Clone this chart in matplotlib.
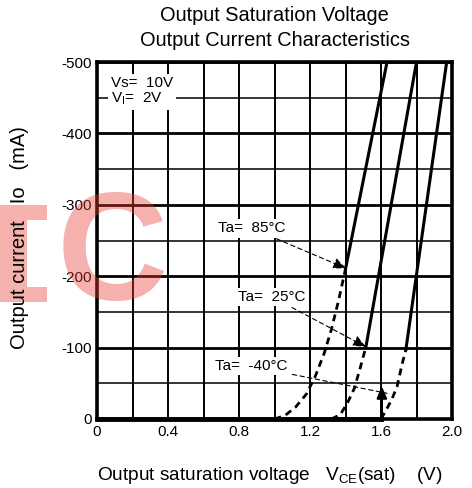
import numpy as np
import matplotlib
matplotlib.use("Agg")
import matplotlib.pyplot as plt
from matplotlib.patches import Polygon

plt.rcParams['font.family'] = ['Liberation Sans', 'DejaVu Sans']
plt.rcParams['mathtext.fontset'] = 'custom'
plt.rcParams['mathtext.rm'] = 'Liberation Sans'
plt.rcParams['axes.unicode_minus'] = False

# VCE(sat) in V, Io in mA
v85_dash = [1.00, 1.06, 1.12, 1.18, 1.23, 1.28, 1.32, 1.36, 1.40]
i85_dash = [0, -5, -17, -35, -60, -92, -125, -165, -210]
v85_solid = [1.40, 1.634]
i85_solid = [-210, -500]

v25_dash = [1.32, 1.37, 1.41, 1.45, 1.48, 1.515]
i25_dash = [0, -6, -22, -43, -69, -101]
v25_solid = [1.515, 1.80]
i25_solid = [-101, -500]

vm40_dash = [1.60, 1.63, 1.66, 1.69, 1.72, 1.74]
im40_dash = [0, -13, -27, -45, -78, -97]
vm40_solid = [1.74, 1.97]
im40_solid = [-97, -500]

v_off = [0, 1.6]
i_off = [0, 0]

x_ticks = [0, 0.4, 0.8, 1.2, 1.6, 2.0]
x_tick_labels = ["0", "0.4", "0.8", "1.2", "1.6", "2.0"]
y_ticks = [0, -100, -200, -300, -400, -500]

W, H = 472, 488
fig = plt.figure(figsize=(W / 100, H / 100), dpi=100)
ax = fig.add_axes([97 / W, 1 - 419 / H, 355 / W, 357 / H])

ax.set_xlim(0, 2.0)
ax.set_ylim(0, -500)
ax.set_xticks(x_ticks)
ax.set_xticklabels(x_tick_labels)
ax.set_xticks(np.arange(0, 2.01, 0.2), minor=True)
ax.set_yticks(y_ticks)
ax.set_yticklabels([str(t) for t in y_ticks])
ax.set_yticks(np.arange(0, -501, -50), minor=True)
ax.tick_params(which='both', length=0, labelsize=11)
ax.tick_params(axis='y', pad=3.5)
ax.tick_params(axis='x', pad=4)
ax.set_axisbelow(True)
ax.grid(which='both', axis='x', color='black', lw=1.4)
ax.grid(which='major', axis='y', color='black', lw=2.0)
ax.grid(which='minor', axis='y', color='black', lw=1.1)
for s in ax.spines.values():
    s.set_linewidth(2.6)

dash = (0, (2.5, 1.8))
ax.plot(v_off, i_off, color='black', lw=3.5, clip_on=False, zorder=4)
for vd, idd, vs, i_s in [(v85_dash, i85_dash, v85_solid, i85_solid),
                         (v25_dash, i25_dash, v25_solid, i25_solid),
                         (vm40_dash, im40_dash, vm40_solid, im40_solid)]:
    ax.plot(vd, idd, color='black', lw=2.0, linestyle=dash, zorder=3)
    ax.plot(vs, i_s, color='black', lw=2.2, zorder=3)

box = dict(boxstyle='square,pad=0.15', fc='white', ec='none')
arrow = dict(arrowstyle='-|>,head_length=0.7,head_width=0.3', color='black',
             lw=0.8, linestyle=(0, (4, 3)), shrinkA=2, shrinkB=0)
ax.annotate("Ta=  85°C", xy=(1.403, -211), xytext=(0.873, -267),
            ha='center', va='center', fontsize=11, bbox=box, arrowprops=arrow)
ax.annotate("Ta=  25°C", xy=(1.515, -101), xytext=(0.986, -171),
            ha='center', va='center', fontsize=11, bbox=box, arrowprops=arrow)
ax.annotate("Ta=  -40°C", xy=(1.634, -36), xytext=(0.868, -74),
            ha='center', va='center', fontsize=11, bbox=box,
            arrowprops=dict(arrowstyle='-', color='black', lw=0.8,
                            linestyle=(0, (4, 3)), shrinkA=2, shrinkB=0))
ax.annotate("", xy=(1.605, -46), xytext=(1.605, 0),
            arrowprops=dict(arrowstyle='-|>,head_length=0.7,head_width=0.3',
                            color='black', lw=1.6, shrinkA=0, shrinkB=0))

ax.text(0.079, -481, "Vs=  10V\nV$_\\mathregular{I}$=  2V", ha='left', va='top',
        fontsize=11, linespacing=1.05,
        bbox=dict(boxstyle='square,pad=0.2', fc='white', ec='none'), zorder=3)

# watermark
wm = (232 / 255, 60 / 255, 50 / 255)
fig.text(112 / W, 1 - 300 / H, "C", ha='center', va='baseline', fontsize=111,
         fontweight='bold', color=wm, alpha=0.4, zorder=5)
pts = [(0, 205), (47, 205), (47, 220), (27, 220), (27, 287), (47, 287), (47, 302), (0, 302)]
fig.add_artist(Polygon([(x / W, 1 - y / H) for x, y in pts], closed=True,
                       transform=fig.transFigure, fc=wm, ec='none', alpha=0.4, zorder=5))

fig.text(274.5 / W, 1 - 15.5 / H, "Output Saturation Voltage", ha='center', va='center', fontsize=14.4, zorder=6)
fig.text(274.5 / W, 1 - 40 / H, "Output Current Characteristics", ha='center', va='center', fontsize=14.4, zorder=6)
fig.text(270 / W, 1 - 475 / H, "Output saturation voltage   V$_\\mathregular{CE}$(sat)    (V)",
         ha='center', va='center', fontsize=13.7, zorder=6)
fig.text(20 / W, 1 - 238 / H, "Output current   Io   (mA)", rotation=90,
         ha='center', va='center', fontsize=14.5, zorder=6)

fig.savefig("out.png", dpi=100)
